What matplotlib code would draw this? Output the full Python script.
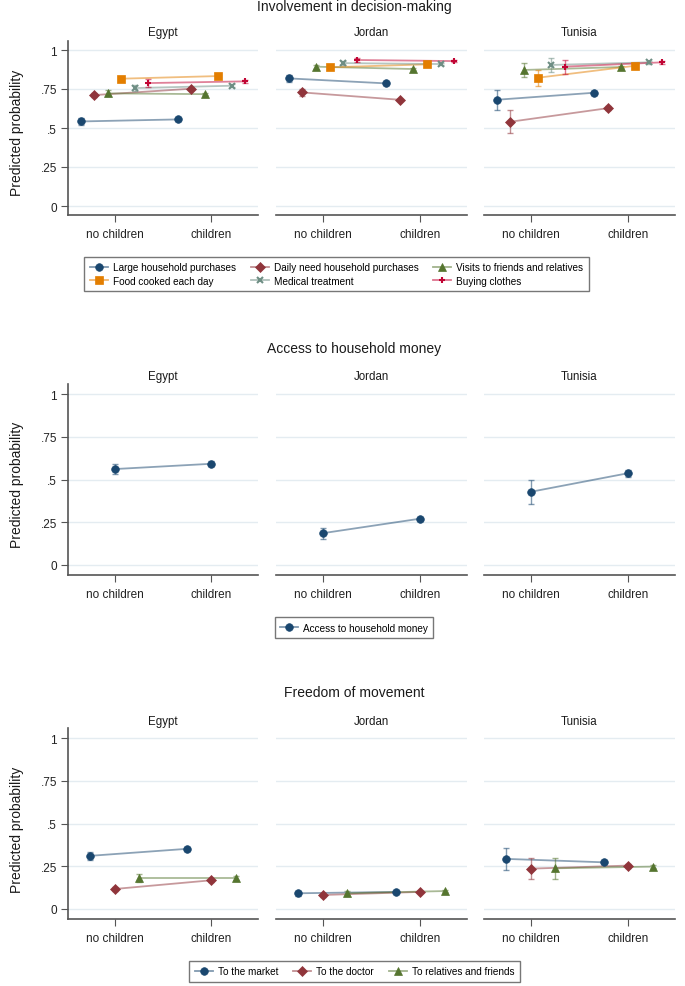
import numpy as np
import matplotlib
matplotlib.use("Agg")
import matplotlib.pyplot as plt
from matplotlib.lines import Line2D

plt.rcParams['font.family'] = ['Liberation Sans', 'DejaVu Sans']

countries = ["Egypt", "Jordan", "Tunisia"]
categories = ["no children", "children"]
ytick_vals = [0, 0.25, 0.5, 0.75, 1]
ytick_labels = ["0", ".25", ".5", ".75", "1"]

# Involvement in decision-making
dec_series = ["Large household purchases", "Daily need household purchases", "Visits to friends and relatives",
              "Food cooked each day", "Medical treatment", "Buying clothes"]
dec_colors = ["#1a476f", "#90353b", "#55752f", "#e37e00", "#6e8e84", "#c10534"]
dec_markers = ["o", "D", "^", "s", "x", "+"]
egypt_dec_no = [0.542, 0.711, 0.722, 0.816, 0.756, 0.788]
egypt_dec_ch = [0.555, 0.752, 0.717, 0.833, 0.771, 0.799]
egypt_dec_ci_no = [0.02, 0.015, 0.02, 0.01, 0.02, 0.025]
egypt_dec_ci_ch = [0.008, 0.008, 0.008, 0.008, 0.008, 0.008]
jordan_dec_no = [0.818, 0.728, 0.893, 0.889, 0.916, 0.936]
jordan_dec_ch = [0.786, 0.681, 0.878, 0.908, 0.910, 0.929]
jordan_dec_ci_no = [0.02, 0.02, 0.012, 0.01, 0.012, 0.015]
jordan_dec_ci_ch = [0.008, 0.008, 0.008, 0.008, 0.008, 0.008]
tunisia_dec_no = [0.681, 0.540, 0.872, 0.822, 0.904, 0.893]
tunisia_dec_ch = [0.726, 0.627, 0.891, 0.899, 0.921, 0.921]
tunisia_dec_ci_no = [0.065, 0.075, 0.047, 0.05, 0.043, 0.046]
tunisia_dec_ci_ch = [0.012, 0.012, 0.008, 0.01, 0.008, 0.008]

# Access to household money
acc_series = ["Access to household money"]
acc_colors = ["#1a476f"]
acc_markers = ["o"]
egypt_acc_no = [0.561]
egypt_acc_ch = [0.592]
egypt_acc_ci_no = [0.031]
egypt_acc_ci_ch = [0.015]
jordan_acc_no = [0.186]
jordan_acc_ch = [0.271]
jordan_acc_ci_no = [0.033]
jordan_acc_ci_ch = [0.012]
tunisia_acc_no = [0.428]
tunisia_acc_ch = [0.537]
tunisia_acc_ci_no = [0.071]
tunisia_acc_ci_ch = [0.02]

# Freedom of movement
mov_series = ["To the market", "To the doctor", "To relatives and friends"]
mov_colors = ["#1a476f", "#90353b", "#55752f"]
mov_markers = ["o", "D", "^"]
egypt_mov_no = [0.311, 0.117, 0.182]
egypt_mov_ch = [0.352, 0.168, 0.182]
egypt_mov_ci_no = [0.025, 0.012, 0.022]
egypt_mov_ci_ch = [0.01, 0.01, 0.01]
jordan_mov_no = [0.092, 0.082, 0.092]
jordan_mov_ch = [0.100, 0.100, 0.105]
jordan_mov_ci_no = [0.015, 0.012, 0.015]
jordan_mov_ci_ch = [0.008, 0.008, 0.008]
tunisia_mov_no = [0.293, 0.236, 0.238]
tunisia_mov_ch = [0.273, 0.254, 0.248]
tunisia_mov_ci_no = [0.065, 0.0625, 0.0625]
tunisia_mov_ci_ch = [0.012, 0.012, 0.01]

W, H = 685, 987
fig = plt.figure(figsize=(W / 100, H / 100), dpi=100)

axes_x = [(68, 258), (276, 467), (484, 675)]
spine_col = "#555555"
grid_col = "#e4ecf1"


def px_text(x, y, s, **kw):
    fig.text(x / W, 1 - y / H, s, ha="center", va="center", **kw)


def marker_style(m):
    # the thin markers need a thicker edge and a smaller size
    if m in ("x", "+"):
        return dict(markersize=4.5, markeredgewidth=1.5)
    if m == "D":
        return dict(markersize=5.5, markeredgewidth=0.5)
    return dict(markersize=5.5, markeredgewidth=0.5)


def draw_section(title, title_y, panel_y, y_one, y_zero, ylabel_y, series, colors, markers,
                 vals_no, vals_ch, ci_no, ci_ch, offsets, legend_box, legend_ncol):
    scale = y_zero - y_one
    ax_bottom = y_zero + 0.06 * scale
    ax_top = y_one - 0.06 * scale
    px_text(354, title_y, title, fontsize=10, color="#1a1a1a")
    for k, c in enumerate(countries):
        x0, x1 = axes_x[k]
        ax = fig.add_axes([x0 / W, 1 - ax_bottom / H, (x1 - x0) / W, (ax_bottom - ax_top) / H])
        ax.set_ylim(-0.06, 1.06)
        ax.set_xlim(-0.48, 1.48)
        for yv in ytick_vals:
            ax.axhline(yv, color=grid_col, lw=1, zorder=0)
        for i in range(len(series)):
            o = offsets[i]
            xs = np.array([0, 1]) + o
            ys = [vals_no[k][i], vals_ch[k][i]]
            err = [ci_no[k][i], ci_ch[k][i]]
            ax.plot(xs, ys, color=colors[i], alpha=0.5, lw=1.3, zorder=2)
            ax.errorbar(xs, ys, yerr=err, fmt="none", ecolor=colors[i], alpha=0.55, elinewidth=1,
                        capsize=2.5, zorder=2)
            ax.plot(xs, ys, linestyle="none", marker=markers[i], color=colors[i], zorder=3,
                    **marker_style(markers[i]))
        ax.set_xticks([0, 1])
        ax.set_xticklabels(categories, fontsize=8.5, color="#222222")
        ax.tick_params(axis="x", length=5, color=spine_col, pad=4)
        for s in ["top", "right"]:
            ax.spines[s].set_visible(False)
        ax.spines["bottom"].set_color(spine_col)
        ax.spines["bottom"].set_linewidth(1.2)
        if k == 0:
            ax.spines["left"].set_color(spine_col)
            ax.spines["left"].set_linewidth(1.2)
            ax.set_yticks(ytick_vals)
            ax.set_yticklabels(ytick_labels, fontsize=8.5, color="#222222")
            ax.tick_params(axis="y", length=5, color=spine_col, pad=3)
        else:
            ax.spines["left"].set_visible(False)
            ax.set_yticks([])
        px_text((x0 + x1) / 2, panel_y, c, fontsize=8.3, color="#1a1a1a")
    fig.text(17 / W, 1 - ylabel_y / H, "Predicted probability", rotation=90, ha="center", va="center",
             fontsize=10, color="#1a1a1a")
    handles = []
    for i in range(len(series)):
        ln = Line2D([0], [0], color=colors[i], lw=1.3, alpha=0.55)
        mk = Line2D([0], [0], color=colors[i], linestyle="none", marker=markers[i],
                    **marker_style(markers[i]))
        handles.append((ln, mk))
    nrow = int(np.ceil(len(series) / legend_ncol))
    order = [r * legend_ncol + cc for cc in range(legend_ncol) for r in range(nrow) if r * legend_ncol + cc < len(series)]
    lx0, ly0, lx1, ly1 = legend_box
    leg = fig.legend([handles[j] for j in order], [series[j] for j in order], ncol=legend_ncol,
                     loc="center", bbox_to_anchor=((lx0 + lx1) / 2 / W, 1 - (ly0 + ly1) / 2 / H),
                     fontsize=7.2, frameon=True, fancybox=False, handlelength=1.8, handletextpad=0.5,
                     columnspacing=1.5, labelspacing=0.35, borderpad=0.55)
    leg.get_frame().set_edgecolor("#555555")
    leg.get_frame().set_linewidth(1)


draw_section("Involvement in decision-making", 7, 33, 51, 207, 133, dec_series, dec_colors, dec_markers,
             [egypt_dec_no, jordan_dec_no, tunisia_dec_no], [egypt_dec_ch, jordan_dec_ch, tunisia_dec_ch],
             [egypt_dec_ci_no, jordan_dec_ci_no, tunisia_dec_ci_no],
             [egypt_dec_ci_ch, jordan_dec_ci_ch, tunisia_dec_ci_ch],
             [-0.35, -0.21, -0.07, 0.07, 0.21, 0.35], (88, 254, 585, 296), 3)

draw_section("Access to household money", 349, 377, 395, 566, 485, acc_series, acc_colors, acc_markers,
             [egypt_acc_no, jordan_acc_no, tunisia_acc_no], [egypt_acc_ch, jordan_acc_ch, tunisia_acc_ch],
             [egypt_acc_ci_no, jordan_acc_ci_no, tunisia_acc_ci_no],
             [egypt_acc_ci_ch, jordan_acc_ci_ch, tunisia_acc_ci_ch],
             [0.0], (267, 615, 441, 642), 1)

draw_section("Freedom of movement", 693, 722, 739, 910, 830, mov_series, mov_colors, mov_markers,
             [egypt_mov_no, jordan_mov_no, tunisia_mov_no], [egypt_mov_ch, jordan_mov_ch, tunisia_mov_ch],
             [egypt_mov_ci_no, jordan_mov_ci_no, tunisia_mov_ci_no],
             [egypt_mov_ci_ch, jordan_mov_ci_ch, tunisia_mov_ci_ch],
             [-0.25, 0.0, 0.25], (183, 959, 526, 985), 3)

fig.savefig("out.png", dpi=100, facecolor="white")
